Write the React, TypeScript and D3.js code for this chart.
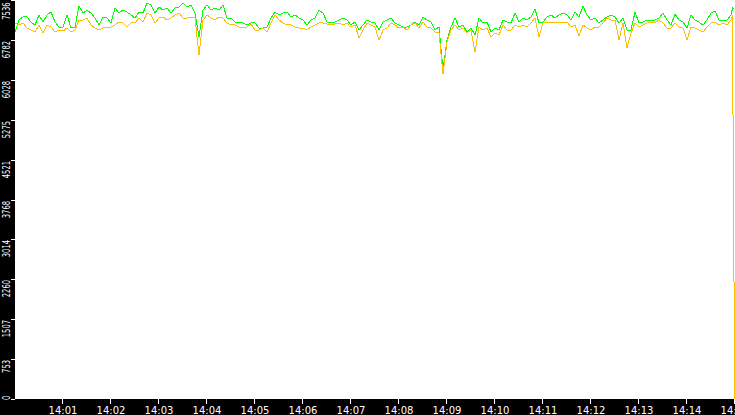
import React, { useEffect } from 'react';
import * as d3 from 'd3';

// samples every 5 s from 14:00:00, plus a short tail where the feed drops out
const sampleSeconds: number[] = [...d3.range(0, 900, 5), 897, 898, 900];

const greenValues: (number | null)[] = [
  6932, 7158, 7215, 7215, 7120, 7064, 7253, 7120, 7253, 7309, 7120, 7026, 7026, 7253, 7007, 7026, 7423, 7290, 7347, 7290, 7196, 7064, 7215, 7196, 7102, 7385, 7290, 7347, 7309, 7253,
  7196, 7309, 7290, 7479, 7442, 7290, 7404, 7347, 7385, 7290, 7385, 7404, 7479, 7404, 7442, 7290, 6837, 7347, 7442, 7347, 7385, 7347, 7442, 7196, 7196, 7120, 7120, 7102, 7064, 7102,
  7102, 7007, 7007, 7026, 7196, 7309, 7253, 7290, 7309, 7215, 7253, 7196, 7158, 7064, 7158, 7196, 7347, 7290, 7120, 7102, 7120, 7158, 7196, 7158, 7064, 7120, 6969, 7064, 7158, 7120,
  7102, 6969, 7120, 7158, 7196, 7102, 7064, 7026, 7026, 7064, 7120, 7064, 7215, 7158, 7120, 6969, 7026, 6214, 6780, 7026, 7196, 7026, 7064, 6932, 7007, 6875, 7196, 7102, 7120, 6932,
  7007, 6969, 7158, 7120, 7102, 7290, 7120, 7196, 7158, 7215, 7366, 7102, 7120, 7215, 7253, 7196, 7253, 7290, 7253, 7158, 7309, 7215, 7423, 7253, 7158, 7196, 7102, 7158, 7215, 7253,
  7215, 7102, 7196, 6969, 6969, 7309, 7102, 7120, 7158, 7158, 7158, 7196, 7290, 7158, 7064, 7272, 7158, 7120, 7007, 7253, 7158, 7120, 7064, 7158, 7290, 7328, 7158, 7158, 7158, 7253,
  7385, 7366, null,
];

const orangeValues: number[] = [
  7102, 7064, 7102, 7007, 6969, 6932, 7064, 6913, 7064, 7026, 6932, 6969, 6950, 7007, 6932, 6969, 7158, 7158, 7196, 7064, 7007, 6969, 7007, 7026, 7026, 7064, 7120, 7102, 7026, 7102,
  7102, 7196, 7120, 7290, 7253, 7102, 7196, 7215, 7158, 7196, 7253, 7290, 7196, 7196, 7215, 7196, 6497, 7158, 7253, 7196, 7158, 7215, 7196, 7102, 7064, 7064, 7026, 7007, 7026, 7083,
  6969, 6969, 7007, 6932, 7102, 7253, 7158, 7102, 7064, 7064, 7026, 7007, 7007, 6969, 7026, 7064, 7102, 7102, 7083, 7064, 7083, 7102, 7064, 7102, 7026, 7064, 6818, 6969, 7102, 7064,
  7026, 6780, 6969, 7007, 7102, 7064, 7007, 7026, 6969, 7064, 7102, 7007, 7120, 7026, 7007, 6932, 6913, 6138, 6743, 6969, 7064, 6969, 7007, 6913, 6969, 6554, 7026, 6969, 7007, 6837,
  6913, 6875, 7064, 6969, 6969, 7064, 7026, 7064, 7026, 7102, 7196, 6837, 7102, 7120, 7102, 7102, 7120, 7102, 7120, 7026, 7064, 6856, 7064, 7007, 6969, 7026, 7026, 7102, 7196, 7158,
  7158, 6780, 7102, 6629, 6913, 7102, 7026, 7064, 7102, 7120, 7102, 7158, 7102, 7007, 7007, 7102, 7026, 7007, 6780, 7026, 7007, 6969, 6932, 7026, 7102, 7120, 7064, 7102, 7064, 7158,
  7253, 3560, 0,
];

const yTickLabels = [0, 753, 1507, 2260, 3014, 3768, 4521, 5275, 6028, 6782, 7536];

const W = 735;
const H = 415;
const left = 15;
const bottom = 399;
const start = new Date(2000, 0, 1, 14, 0, 0);
const end = new Date(2000, 0, 1, 14, 15, 0);

const App: React.FC = () => {
  useEffect(() => {
    document.body.style.margin = '0';
  }, []);

  const x = d3.scaleTime().domain([start, end]).range([left, W]);
  const y = d3.scaleLinear().domain([0, 7536]).range([bottom, 0]);

  const time = (i: number) => new Date(start.getTime() + sampleSeconds[i] * 1000);

  const greenLine = d3.line<number | null>()
    .defined(d => d != null)
    .x((d, i) => x(time(i)))
    .y(d => y(d as number));

  const orangeLine = d3.line<number>()
    .x((d, i) => x(time(i)))
    .y(d => y(d));

  const minutes = d3.timeMinute.range(new Date(2000, 0, 1, 14, 1, 0), new Date(2000, 0, 1, 14, 16, 0));
  const fmt = d3.timeFormat('%H:%M');

  return (
    <svg width={W} height={H} style={{ display: 'block' }} fontFamily="'DejaVu Sans', sans-serif">
      <defs>
        <clipPath id="plot">
          <rect x={left} y={0} width={W - left} height={bottom} />
        </clipPath>
      </defs>
      <rect x={0} y={0} width={W} height={H} fill="#000" />
      <rect x={left} y={0} width={W - left} height={bottom} fill="#fff" />

      <g clipPath="url(#plot)" fill="none" strokeWidth={1} shapeRendering="crispEdges">
        <path d={greenLine(greenValues) ?? ''} stroke="#00ff00" />
        <path d={orangeLine(orangeValues) ?? ''} stroke="#ffc000" />
      </g>

      {yTickLabels.map((v, i) => {
        const ty = Math.round(y(v));
        const first = i === 0;
        const top = i === yTickLabels.length - 1;
        const s = String(v);
        return (
          <g key={v}>
            <line x1={11} x2={left} y1={ty + 0.5} y2={ty + 0.5} stroke="#fff" />
            <text
              transform={`translate(9.5,${first ? 400 : top ? ty + 2.5 : ty + 1}) rotate(-90)`}
              textAnchor={first ? 'start' : 'end'}
              fill="#fff"
              fontSize={10}
              textLength={s.length * 4.3}
              lengthAdjust="spacingAndGlyphs"
            >
              {s}
            </text>
          </g>
        );
      })}

      {minutes.map(m => {
        const tx = Math.round(x(m));
        return (
          <g key={m.getTime()}>
            <line x1={tx - 0.5} x2={tx - 0.5} y1={bottom} y2={bottom + 5} stroke="#fff" />
            <text x={tx} y={414} textAnchor="middle" fill="#fff" fontSize={10}>
              {fmt(m)}
            </text>
          </g>
        );
      })}
    </svg>
  );
};

export default App;
